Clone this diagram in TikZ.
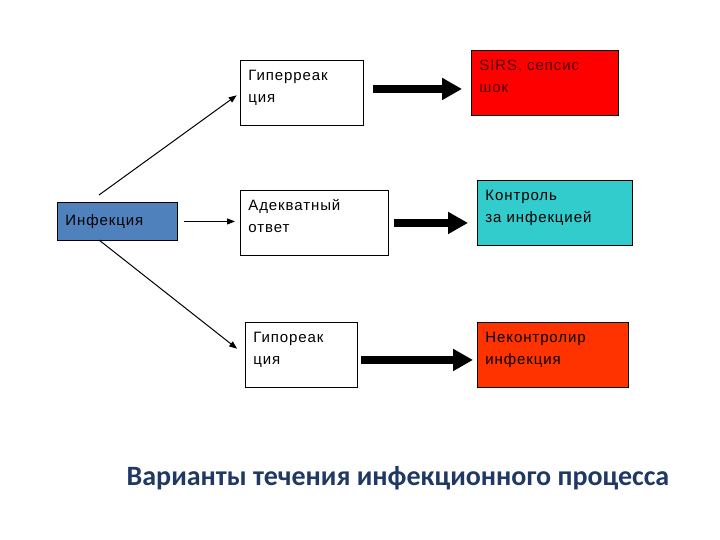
\documentclass[tikz,border=0pt]{standalone}
\usepackage{fontspec}
\setmainfont{Liberation Sans}
\newfontfamily\boxfont[LetterSpace=6]{Liberation Sans}
\newfontfamily\titlefont{Carlito}
\usepackage{xcolor}
\usepackage{tikz}
\usetikzlibrary{positioning,arrows.meta,calc}
\definecolor{infblue}{RGB}{79,129,189}
\definecolor{sirsred}{RGB}{255,0,0}
\definecolor{ctrlcyan}{RGB}{51,204,204}
\definecolor{uncred}{RGB}{255,51,0}
\definecolor{titlenavy}{RGB}{31,56,100}

\tikzset{
  box/.style={draw=black, line width=0.9pt, anchor=north west, align=left,
    inner xsep=8pt, inner ysep=3pt, text height=17pt, text depth=42pt,
    font=\boxfont\fontsize{15}{22}\selectfont},
  thin arrow/.style={line width=1pt, -{Triangle[length=8pt,width=6pt]}},
  thick arrow/.style={line width=7.5pt, -{Triangle[length=20pt,width=21pt]}}
}

\begin{document}
\begin{tikzpicture}[x=1pt,y=-1pt]
  \useasboundingbox (0,0) rectangle (720,540);

  % left box
  \node[box, fill=infblue, text width=104pt, text height=20pt, text depth=12pt]
    (infection) at (57,202) {Инфекция};

  % reactions
  \node[box, fill=white, text width=107pt] (hyper) at (240,60) {Гиперреак\\ция};
  \node[box, fill=white, text width=132pt] (adequate) at (240,190) {Адекватный\\ответ};
  \node[box, fill=white, text width=96pt] (hypo) at (245,322) {Гипореак\\ция};

  % outcomes
  \node[box, fill=sirsred, text=black!70!red, text width=131pt] (sirs) at (471,50) {SIRS, сепсис\\шок};
  \node[box, fill=ctrlcyan, text width=139pt] (control) at (477,180) {Контроль\\за инфекцией};
  \node[box, fill=uncred, text width=135pt] (uncontrolled) at (477,322) {Неконтролир\\инфекция};

  \coordinate (upstart) at (99,195);
  \coordinate (downstart) at (99,240);

  \draw[thin arrow, shorten >=4pt] (upstart) -- (hyper.west);
  \draw[thin arrow, shorten <=6pt, shorten >=5pt] (infection.east) -- (infection.east -| adequate.west);
  \draw[thin arrow, shorten >=10pt] (downstart) -- (hypo.west);

  \draw[thick arrow, shorten <=9pt, shorten >=9pt] ($(hyper.east)+(0,-4)$) -- ($(hyper.east -| sirs.west)+(0,-4)$);
  \draw[thick arrow, shorten <=5pt, shorten >=9pt] (adequate.east) -- (adequate.east -| control.west);
  \draw[thick arrow, shorten <=3pt, shorten >=4pt] ($(hypo.east)+(0,5)$) -- ($(hypo.east -| uncontrolled.west)+(0,5)$);

  \node[font=\titlefont\bfseries\fontsize{28}{32}\selectfont, text=titlenavy]
    (title) at (398,478) {Варианты течения инфекционного процесса};
\end{tikzpicture}
\end{document}
